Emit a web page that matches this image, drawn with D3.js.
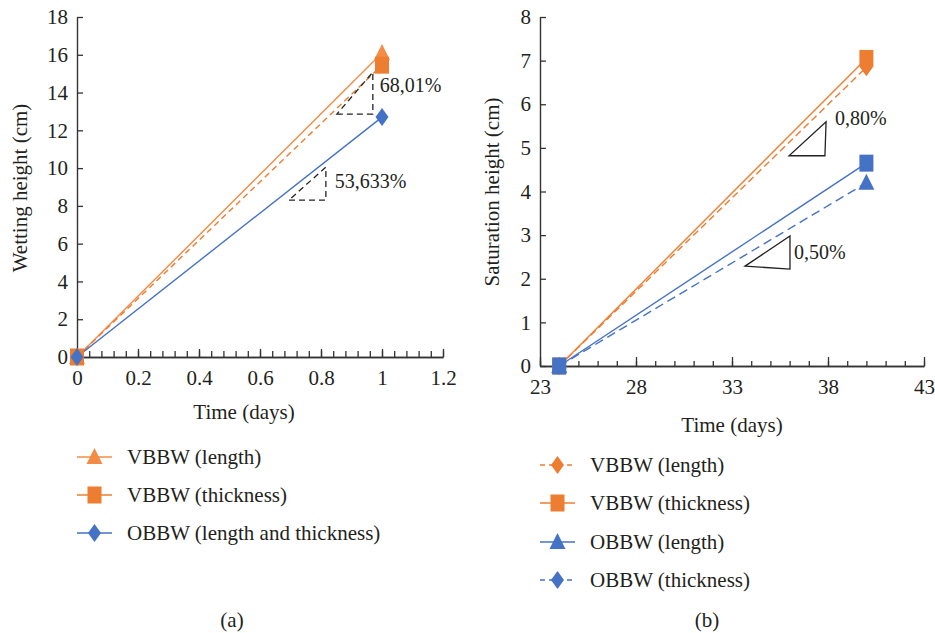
<!DOCTYPE html>
<html>
<head>
<meta charset="utf-8">
<script src="https://cdn.jsdelivr.net/npm/d3@7"></script>
<style>
  body { margin: 0; background: #fff; }
</style>
</head>
<body>
<svg id="chart" width="935" height="633"></svg>
<script>
/* data, panel (a) */
let timeA = [0, 1];
let vbbwLengthA = [0, 16.1];
let vbbwThickA = [0, 15.45];
let obbwA = [0, 12.7];
let xTicksA = [0, 0.2, 0.4, 0.6, 0.8, 1, 1.2];
let yTicksA = [0, 2, 4, 6, 8, 10, 12, 14, 16, 18];
let legendA = ["VBBW (length)", "VBBW (thickness)", "OBBW (length and thickness)"];

/* data, panel (b) */
let timeB = [24, 40];
let vbbwLengthB = [0, 6.85];
let vbbwThickB = [0, 7.05];
let obbwLengthB = [0, 4.2];
let obbwThickB = [0, 4.65];
let xTicksB = [23, 28, 33, 38, 43];
let yTicksB = [0, 1, 2, 3, 4, 5, 6, 7, 8];
let legendB = ["VBBW (length)", "VBBW (thickness)", "OBBW (length)", "OBBW (thickness)"];

/* slope annotations, in data units */
let slopeA = [
  {pts: [[0.852, 12.86], [0.970, 12.86], [0.970, 15.08]], label: "68,01%", at: [0.993, 14.05]},
  {pts: [[0.695, 8.31], [0.816, 8.31], [0.816, 10.05]], label: "53,633%", at: [0.845, 8.95]}
];
let slopeB = [
  {pts: [[35.97, 4.82], [37.84, 4.82], [37.9, 5.6]], label: "0,80%", at: [38.36, 5.53]},
  {pts: [[33.68, 2.29], [36.02, 2.22], [36.02, 2.98]], label: "0,50%", at: [36.23, 2.45]}
];

let orange = "#ed7d31", orangeLight = "#f28c46", blue = "#4472c4", ink = "#333";
let serif = "'Liberation Serif', 'Times New Roman', serif";
let fs = "21px";

let svg = d3.select("#chart");

function label(g, x, y, txt, anchor, size) {
  return g.append("text")
    .attr("x", x).attr("y", y)
    .attr("text-anchor", anchor || "start")
    .style("font-family", serif)
    .style("font-size", size || fs)
    .style("fill", "#231f20")
    .text(txt);
}

function marker(g, type, cx, cy, color) {
  let p;
  if (type === "square") {
    p = [[-7, -8.5], [7, -8.5], [7, 8.5], [-7, 8.5]];
  } else if (type === "diamond") {
    p = [[0, -9], [6.5, 0], [0, 9], [-6.5, 0]];
  } else {
    p = [[0, -9], [8, 7], [-8, 7]];
  }
  g.append("path")
    .attr("d", "M" + p.map(function(d) { return [cx + d[0], cy + d[1]].join(","); }).join("L") + "Z")
    .attr("fill", color);
}

function drawAxes(g, x, y, majorX, minorX, yTicks, majorLen, minorLen) {
  let gy = g.append("g")
    .attr("transform", "translate(" + x.range()[0] + ",0)")
    .call(d3.axisLeft(y).tickValues(yTicks).tickSize(-6).tickSizeOuter(0).tickPadding(9)
      .tickFormat(function(d) { return d; }));

  let gxm = g.append("g")
    .attr("transform", "translate(0," + y.range()[0] + ")")
    .call(d3.axisBottom(x).tickValues(minorX).tickSize(-minorLen).tickSizeOuter(0).tickFormat(""));

  let gx = g.append("g")
    .attr("transform", "translate(0," + y.range()[0] + ")")
    .call(d3.axisBottom(x).tickValues(majorX).tickSize(-majorLen).tickSizeOuter(0).tickPadding(13)
      .tickFormat(function(d) { return d; }));

  [gy, gx, gxm].forEach(function(a) {
    a.select(".domain").attr("stroke", ink).attr("stroke-width", 1.4);
    a.selectAll(".tick line").attr("stroke", ink).attr("stroke-width", 1.3);
    a.selectAll("text")
      .style("font-family", serif)
      .style("font-size", fs)
      .style("fill", "#231f20");
  });
}

function line(g, x, y, xs, ys, color, dash) {
  g.append("path")
    .datum(xs.map(function(d, i) { return [d, ys[i]]; }))
    .attr("fill", "none")
    .attr("stroke", color)
    .attr("stroke-width", 1.4)
    .attr("stroke-dasharray", dash || null)
    .attr("d", d3.line().x(function(d) { return x(d[0]); }).y(function(d) { return y(d[1]); }));
}

function slopes(g, x, y, list, dash) {
  list.forEach(function(s) {
    g.append("path")
      .attr("d", "M" + s.pts.map(function(d) { return x(d[0]) + "," + y(d[1]); }).join("L") + "Z")
      .attr("fill", "none")
      .attr("stroke", "#222")
      .attr("stroke-width", 1.3)
      .attr("stroke-dasharray", dash || null);
    label(g, x(s.at[0]), y(s.at[1]), s.label, "start", "20px");
  });
}

function legend(g, x0, rows, items) {
  items.forEach(function(it, i) {
    let ry = rows[i];
    g.append("line")
      .attr("x1", x0).attr("x2", x0 + 35)
      .attr("y1", ry).attr("y2", ry)
      .attr("stroke", it.color)
      .attr("stroke-width", 1.6)
      .attr("stroke-dasharray", it.dash || null);
    marker(g, it.marker, x0 + 17.5, ry, it.color);
    label(g, x0 + 50, ry, it.label).attr("dy", "0.33em");
  });
}

/* ---------- panel (a) ---------- */
let xA = d3.scaleLinear().domain([0, 1.2]).range([77, 443]);
let yA = d3.scaleLinear().domain([0, 18]).range([357, 17]);
let gA = svg.append("g");

drawAxes(gA, xA, yA, xTicksA, d3.range(0, 1.2001, 0.04), yTicksA, 8, 6);

line(gA, xA, yA, timeA, vbbwLengthA, orangeLight);
line(gA, xA, yA, timeA, vbbwThickA, orange, "6,4");
line(gA, xA, yA, timeA, obbwA, blue);

slopes(gA, xA, yA, slopeA, "6,4");

timeA.forEach(function(t, i) {
  marker(gA, "triangle", xA(t), yA(vbbwLengthA[i]), orangeLight);
  marker(gA, "square", xA(t), yA(vbbwThickA[i]), orange);
  marker(gA, "diamond", xA(t), yA(obbwA[i]), blue);
});

label(gA, 0, 0, "Wetting height (cm)", "middle").attr("transform", "translate(27,188) rotate(-90)");
label(gA, 244, 419, "Time (days)", "middle");

legend(gA, 77, [457, 495, 533], [
  {label: legendA[0], color: orangeLight, marker: "triangle"},
  {label: legendA[1], color: orange, marker: "square"},
  {label: legendA[2], color: blue, marker: "diamond"}
]);
label(gA, 232, 627, "(a)", "middle");

/* ---------- panel (b) ---------- */
let xB = d3.scaleLinear().domain([23, 43]).range([540, 924]);
let yB = d3.scaleLinear().domain([0, 8]).range([366, 17]);
let gB = svg.append("g");

drawAxes(gB, xB, yB, xTicksB, d3.range(23, 43.5, 1), yTicksB, 9, 5);

line(gB, xB, yB, timeB, vbbwThickB, orange);
line(gB, xB, yB, timeB, vbbwLengthB, orange, "7,4");
line(gB, xB, yB, timeB, obbwThickB, blue);
line(gB, xB, yB, timeB, obbwLengthB, blue, "9,5");

slopes(gB, xB, yB, slopeB, null);

timeB.forEach(function(t, i) {
  marker(gB, "square", xB(t), yB(vbbwThickB[i]), orange);
  marker(gB, "diamond", xB(t), yB(vbbwLengthB[i]), orange);
  marker(gB, "triangle", xB(t), yB(obbwLengthB[i]), blue);
  marker(gB, "square", xB(t), yB(obbwThickB[i]), blue);
});

label(gB, 0, 0, "Saturation height (cm)", "middle").attr("transform", "translate(499,192) rotate(-90)");
label(gB, 732, 432, "Time (days)", "middle");

legend(gB, 540, [465, 503, 542, 580], [
  {label: legendB[0], color: orange, marker: "diamond", dash: "5,4"},
  {label: legendB[1], color: orange, marker: "square"},
  {label: legendB[2], color: blue, marker: "triangle"},
  {label: legendB[3], color: blue, marker: "diamond", dash: "5,4"}
]);
label(gB, 707, 627, "(b)", "middle");
</script>
</body>
</html>
